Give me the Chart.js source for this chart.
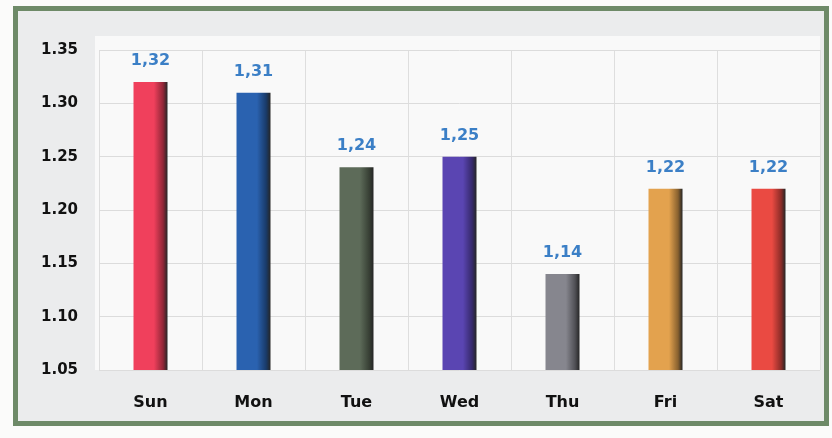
<!DOCTYPE html>
<html>
<head>
<meta charset="utf-8">
<script src="https://cdn.jsdelivr.net/npm/chart.js@4.4.1/dist/chart.umd.min.js"></script>
<style>
  body { margin: 0; background: #fbfbfa; }
  .frame {
    position: absolute;
    left: 13px;
    top: 6px;
    width: 806px;
    height: 410px;
    border: 5px solid #6e8a68;
    background: #ebeced;
  }
  canvas { display: block; }
</style>
</head>
<body>
<div class="frame">
  <canvas id="days-chart" width="806" height="410"></canvas>
</div>
<script>
const days = ['Sun', 'Mon', 'Tue', 'Wed', 'Thu', 'Fri', 'Sat'];
const values = [1.32, 1.31, 1.24, 1.25, 1.14, 1.22, 1.22];
const barColors = ['#f0405c', '#2a62b0', '#5d6b59', '#5a45b2', '#86868e', '#e3a24e', '#ea4a42'];
const yTicks = [1.05, 1.1, 1.15, 1.2, 1.25, 1.3, 1.35];

const daysChart = document.getElementById('days-chart');

// darken a hex colour by a factor
const shade = (hex, f) => {
  const n = parseInt(hex.slice(1), 16);
  const r = Math.round(((n >> 16) & 255) * f);
  const g = Math.round(((n >> 8) & 255) * f);
  const b = Math.round((n & 255) * f);
  return `rgb(${r},${g},${b})`;
};

// white plot background
const plotBackground = {
  id: 'plotBackground',
  beforeDraw(chart) {
    const { ctx, chartArea } = chart;
    ctx.save();
    ctx.fillStyle = '#f9f9f9';
    ctx.fillRect(chartArea.left - 4, chartArea.top - 14, chartArea.width + 4, chartArea.height + 14);
    ctx.restore();
  },
};

// cylinder-like shading across each bar
const barShading = {
  id: 'barShading',
  beforeDatasetsDraw(chart) {
    const { ctx } = chart;
    chart.getDatasetMeta(0).data.forEach((bar, i) => {
      const left = bar.x - bar.width / 2;
      const g = ctx.createLinearGradient(left, 0, left + bar.width, 0);
      g.addColorStop(0, barColors[i]);
      g.addColorStop(0.6, barColors[i]);
      g.addColorStop(0.87, shade(barColors[i], 0.6));
      g.addColorStop(1, '#262626');
      bar.options.backgroundColor = g;
    });
  },
};

// value labels above bars
const valueLabels = {
  id: 'valueLabels',
  afterDatasetsDraw(chart) {
    const { ctx } = chart;
    ctx.save();
    ctx.font = 'bold 16px "DejaVu Sans"';
    ctx.fillStyle = '#3b7fc6';
    ctx.textAlign = 'center';
    ctx.textBaseline = 'bottom';
    chart.getDatasetMeta(0).data.forEach((bar, i) => {
      ctx.fillText(values[i].toFixed(2).replace('.', ','), bar.x, bar.y - 13);
    });
    ctx.restore();
  },
};

new Chart(daysChart, {
  type: 'bar',
  data: {
    labels: days,
    datasets: [
      {
        data: values,
        backgroundColor: barColors,
        barPercentage: 0.33,
        categoryPercentage: 1,
      },
    ],
  },
  options: {
    responsive: false,
    animation: false,
    layout: {
      padding: { top: 39, right: 4 },
    },
    scales: {
      x: {
        grid: { color: '#dedede', drawTicks: false },
        border: { display: false },
        ticks: {
          color: '#111',
          padding: 23,
          font: { family: 'DejaVu Sans', weight: 'bold', size: 16 },
        },
        afterFit: (scale) => {
          scale.height = 51;
        },
      },
      y: {
        min: yTicks[0],
        max: yTicks[yTicks.length - 1],
        afterBuildTicks: (scale) => {
          scale.ticks = yTicks.map((v) => ({ value: v }));
        },
        grid: { color: '#dcdcdc', drawTicks: false },
        border: { display: false },
        ticks: {
          color: '#111',
          padding: 21,
          font: { family: 'DejaVu Sans', weight: 'bold', size: 15 },
          callback: (v) => v.toFixed(2),
        },
        afterFit: (scale) => {
          scale.width = 81;
        },
      },
    },
    plugins: {
      legend: { display: false },
      tooltip: { enabled: false },
    },
  },
  plugins: [plotBackground, barShading, valueLabels],
});
</script>
</body>
</html>
